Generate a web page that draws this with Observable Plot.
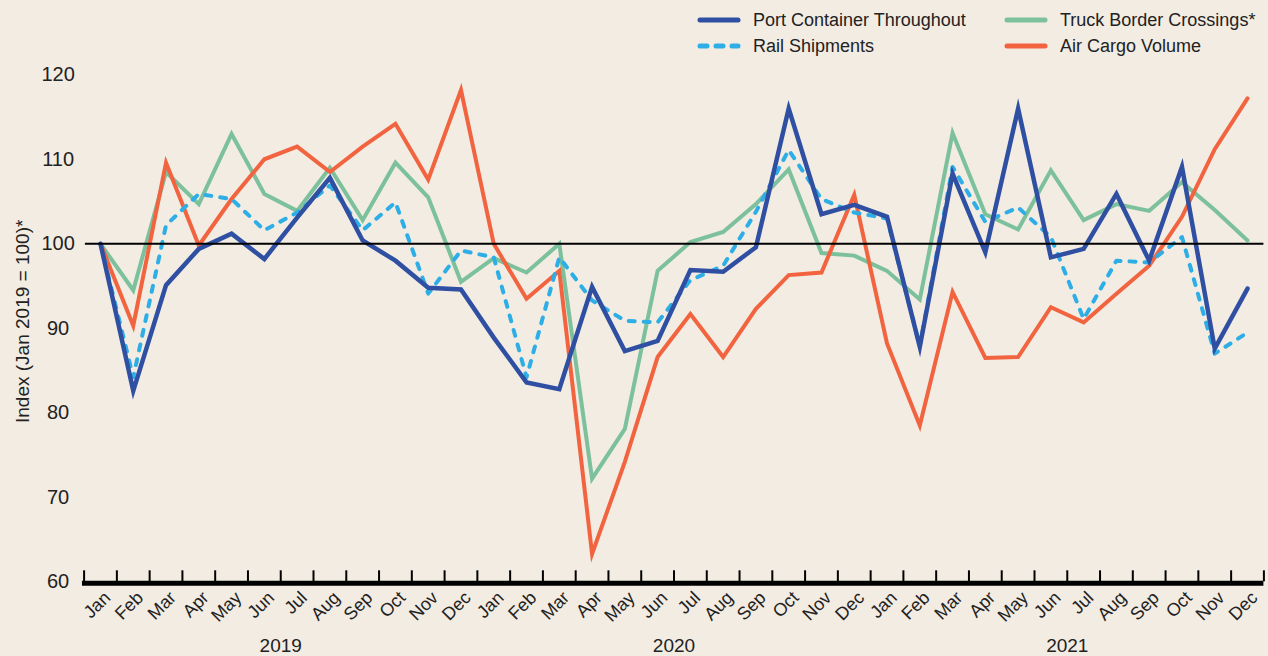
<!DOCTYPE html>
<html>
<head>
<meta charset="utf-8">
<script src="https://cdn.jsdelivr.net/npm/d3@7"></script>
<script src="https://cdn.jsdelivr.net/npm/@observablehq/plot@0.6"></script>
<style>
  html, body { margin: 0; padding: 0; background: #f2ece2; }
  #wrap { position: relative; width: 1268px; height: 656px; background: #f2ece2; font-family: "Liberation Sans", Arial, sans-serif; color: #222; overflow: hidden; }
  #chart { position: absolute; left: 0; top: 0; }
  .legend { position: absolute; top: 8px; left: 0; width: 1268px; height: 52px; }
  .item { position: absolute; display: flex; align-items: center; font-size: 18px; height: 24px; white-space: nowrap; }
  .item svg { margin-right: 12px; }
</style>
</head>
<body>
<div id="wrap">
  <div id="chart"></div>
  <div class="legend" id="legend"></div>
</div>
<script>
const months = ["Jan","Feb","Mar","Apr","May","Jun","Jul","Aug","Sep","Oct","Nov","Dec"];
const years = ["2019","2020","2021"];
const seriesNames = ["Port Container Throughout","Rail Shipments","Truck Border Crossings*","Air Cargo Volume"];
const seriesColors = ["#2f4fa2","#2eaee6","#7cc19c","#f26440"];

const port  = [100, 82.6, 95.1, 99.4, 101.2, 98.2, 103.1, 107.8, 100.4, 98.0, 94.8, 94.6,
               88.9, 83.6, 82.8, 94.9, 87.3, 88.5, 96.9, 96.7, 99.6, 116.0, 103.5, 104.6,
               103.2, 87.8, 108.3, 99.0, 116.0, 98.4, 99.4, 105.9, 98.0, 109.1, 87.6, 94.7];
const rail  = [100, 84.2, 102.2, 105.9, 105.3, 101.6, 103.7, 106.9, 101.6, 104.9, 94.1, 99.2,
               98.4, 84.2, 98.4, 93.3, 90.9, 90.7, 95.7, 97.4, 103.8, 111.1, 105.3, 103.7,
               103.0, 87.9, 109.1, 102.6, 104.3, 100.8, 91.1, 98.0, 97.8, 100.8, 87.0, 89.5];
const truck = [100, 94.5, 108.5, 104.7, 113.0, 105.9, 103.9, 109.0, 102.8, 109.6, 105.5, 95.5,
               98.3, 96.6, 100.0, 72.2, 78.1, 96.8, 100.2, 101.4, 104.7, 108.8, 98.9, 98.6,
               96.8, 93.4, 113.1, 103.5, 101.7, 108.7, 102.8, 104.7, 103.9, 107.3, 104.0, 100.4];
const air   = [100, 90.3, 109.6, 99.8, 105.3, 110.0, 111.5, 108.5, 111.5, 114.2, 107.6, 118.2,
               100.0, 93.5, 96.8, 63.3, 74.2, 86.6, 91.7, 86.6, 92.3, 96.3, 96.6, 105.8,
               88.2, 78.5, 94.3, 86.5, 86.6, 92.5, 90.7, 94.1, 97.4, 103.2, 111.2, 117.2];
const yTicks = [60, 70, 80, 90, 100, 110, 120];

// build tables
const monthLabels = years.flatMap(y => months.map(m => m));
const idx = monthLabels.map((_, i) => i);
const toRows = arr => arr.map((v, i) => ({i, v}));
const boundaries = d3.range(0, idx.length + 1).map(k => k - 0.5);
const yearRows = years.map((y, k) => ({y, i: k * months.length + (months.length - 1) / 2}));

const plot = Plot.plot({
  width: 1268,
  height: 656,
  marginLeft: 83.6,
  marginRight: 4.6,
  marginTop: 74.3,
  marginBottom: 74.7,
  style: {background: "transparent", fontFamily: "Liberation Sans, Arial, sans-serif", color: "#222"},
  x: {domain: [-0.5, idx.length - 0.5], axis: null},
  y: {domain: [60, 120], axis: null},
  marks: [
    // y tick labels
    Plot.text(yTicks, {y: d => d, text: d => String(d), frameAnchor: "left", dx: -26, textAnchor: "middle", lineAnchor: "middle", fontSize: 20, fill: "#222"}),
    // y label
    Plot.text(["Index (Jan 2019 = 100)*"], {frameAnchor: "left", dx: -61, dy: -7, rotate: -90, textAnchor: "middle", lineAnchor: "middle", fontSize: 19, fill: "#222"}),
    // lines
    Plot.line(toRows(truck), {x: "i", y: "v", stroke: seriesColors[2], strokeWidth: 4, strokeLinejoin: "miter", strokeMiterlimit: 10}),
    Plot.line(toRows(air), {x: "i", y: "v", stroke: seriesColors[3], strokeWidth: 4, strokeLinejoin: "miter", strokeMiterlimit: 10}),
    Plot.line(toRows(rail), {x: "i", y: "v", stroke: seriesColors[1], strokeWidth: 4, strokeDasharray: "6,9", strokeLinecap: "round", strokeLinejoin: "round"}),
    Plot.line(toRows(port), {x: "i", y: "v", stroke: seriesColors[0], strokeWidth: 4.5, strokeLinejoin: "miter", strokeMiterlimit: 10}),
    // reference line at 100
    Plot.ruleY([100], {x1: -0.46, x2: idx.length - 0.5, stroke: "#000", strokeWidth: 2}),
    // bottom axis line and ticks
    Plot.ruleY([60], {x1: -0.55, x2: idx.length - 0.5, stroke: "#000", strokeWidth: 5, dy: 1.5}),
    Plot.ruleX(boundaries, {x: d => d, y1: 60, y2: 61.3, stroke: "#000", strokeWidth: 2}),
    // month labels
    Plot.text(idx, {x: d => d, text: d => monthLabels[d], frameAnchor: "bottom", rotate: -45, textAnchor: "end", dx: 11, dy: 17, fontSize: 18, fill: "#222"}),
    // year labels
    Plot.text(yearRows, {x: "i", text: "y", frameAnchor: "bottom", lineAnchor: "middle", dy: 64, fontSize: 19, fill: "#222"})
  ]
});
document.getElementById("chart").appendChild(plot);

// legend
const legendPos = [[697, 0], [697, 26], [1004, 0], [1004, 26]];
const legend = document.getElementById("legend");
seriesNames.forEach((name, k) => {
  const div = document.createElement("div");
  div.className = "item";
  div.style.left = legendPos[k][0] + "px";
  div.style.top = legendPos[k][1] + "px";
  const dashed = k === 1;
  div.innerHTML = `<svg width="44" height="10"><line x1="3" y1="5" x2="41" y2="5" stroke="${seriesColors[k]}" stroke-width="5" stroke-linecap="round" ${dashed ? 'stroke-dasharray="7,9"' : ""}/></svg><span>${name}</span>`;
  legend.appendChild(div);
});
</script>
</body>
</html>
